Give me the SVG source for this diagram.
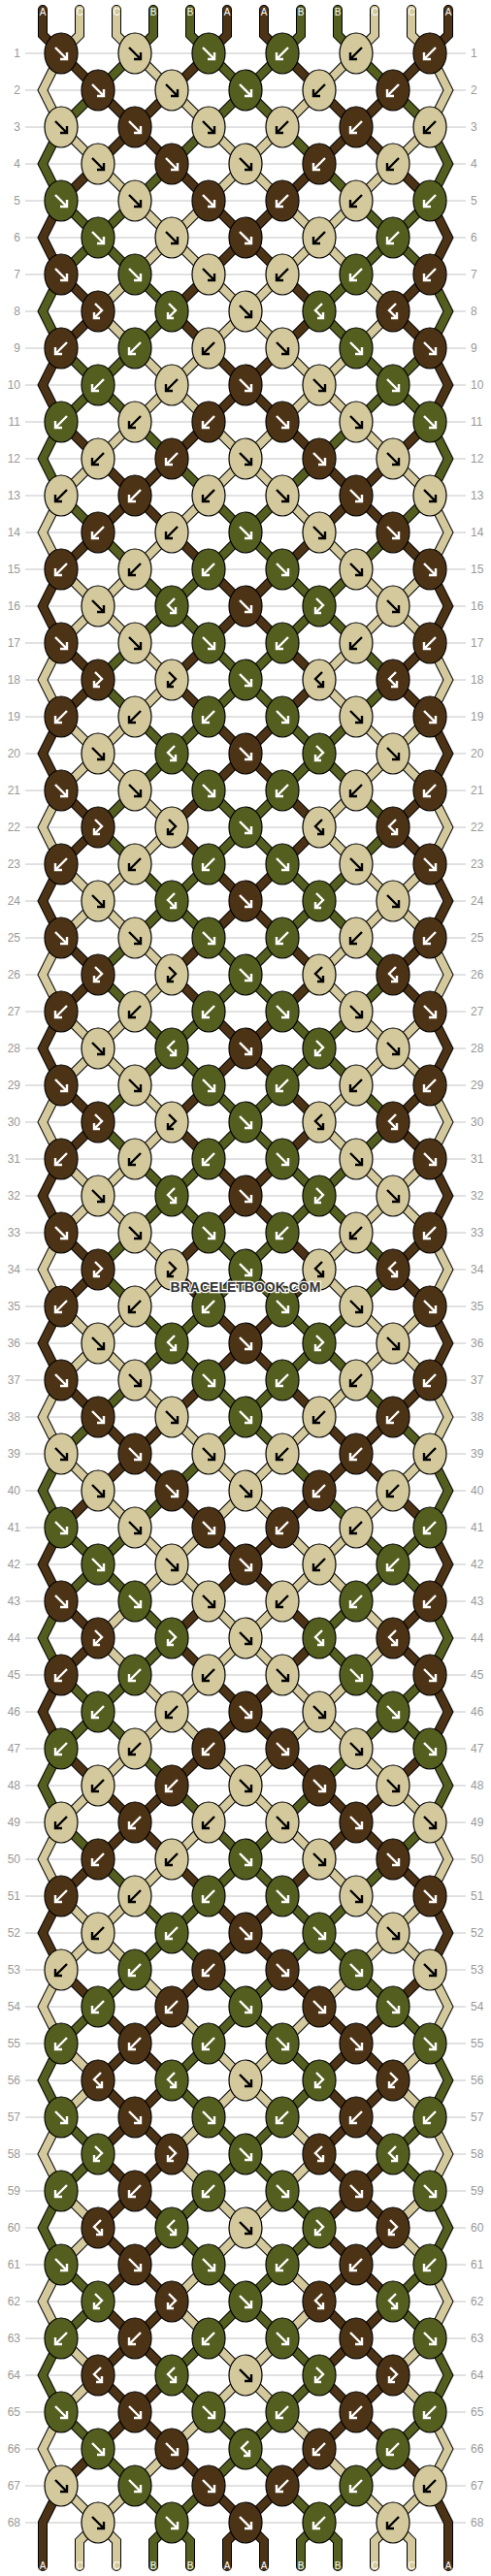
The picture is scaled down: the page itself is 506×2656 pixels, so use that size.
<svg xmlns="http://www.w3.org/2000/svg" width="506" height="2656" viewBox="0 0 506 2656">
<style>
.kA{fill:#4d3316}.kB{fill:#545e1f}.kC{fill:#d4c99c}
.kn{stroke:#000;stroke-width:1.2}
path{fill:none}
.so{stroke:#000;stroke-width:10}
.sA{stroke:#4d3316;stroke-width:8}
.sB{stroke:#545e1f;stroke-width:8}
.sC{stroke:#d4c99c;stroke-width:8}
.so,.sA,.sB,.sC{stroke-linecap:round;stroke-linejoin:miter}
.w{stroke:#fff}.k{stroke:#000}
.ar{stroke-width:2.4;stroke-linejoin:miter;stroke-linecap:butt}
.rl{stroke:#c4c4c4;stroke-width:1}
.nl,.nr{font-family:"Liberation Sans",Arial,sans-serif;font-size:12px;fill:#999}
.nl{text-anchor:end}
.lab{font-family:"Liberation Sans",Arial,sans-serif;font-size:10px;fill:#fff;text-anchor:middle}
.wm{font-family:"Liberation Sans",Arial,sans-serif;font-size:14px;font-weight:bold;fill:#333;stroke:#fff;stroke-width:2.5;paint-order:stroke;text-anchor:middle}
</style>
<defs>
<path id="aF" class="ar" d="M-6-6L6 6M6-1V6H-1"/>
<path id="aB" class="ar" d="M6-6L-6 6M-6-1V6H1"/>
<path id="aFB" class="ar" d="M-3-8L4-1L-4 7M-4 1V7H2"/>
<path id="aBF" class="ar" d="M3-8L-4-1L4 7M4 1V7H-2"/>
<g id="AF"><ellipse class="kA kn" rx="17" ry="21"/><use href="#aF" class="w"/></g>
<g id="AB"><ellipse class="kA kn" rx="17" ry="21"/><use href="#aB" class="w"/></g>
<g id="AFB"><ellipse class="kA kn" rx="17" ry="21"/><use href="#aFB" class="w"/></g>
<g id="ABF"><ellipse class="kA kn" rx="17" ry="21"/><use href="#aBF" class="w"/></g>
<g id="BF"><ellipse class="kB kn" rx="17" ry="21"/><use href="#aF" class="w"/></g>
<g id="BB"><ellipse class="kB kn" rx="17" ry="21"/><use href="#aB" class="w"/></g>
<g id="BFB"><ellipse class="kB kn" rx="17" ry="21"/><use href="#aFB" class="w"/></g>
<g id="BBF"><ellipse class="kB kn" rx="17" ry="21"/><use href="#aBF" class="w"/></g>
<g id="CF"><ellipse class="kC kn" rx="17" ry="21"/><use href="#aF" class="k"/></g>
<g id="CB"><ellipse class="kC kn" rx="17" ry="21"/><use href="#aB" class="k"/></g>
<g id="CFB"><ellipse class="kC kn" rx="17" ry="21"/><use href="#aFB" class="k"/></g>
<g id="CBF"><ellipse class="kC kn" rx="17" ry="21"/><use href="#aBF" class="k"/></g>
<path id="oO" d="M63 0l38 38M139 0l-38 38M139 0l38 38M215 0l-38 38M215 0l38 38M291 0l-38 38M291 0l38 38M367 0l-38 38M367 0l38 38M443 0l-38 38"/>
<path id="eO" d="M101 0l-38 38M101 0l38 38M177 0l-38 38M177 0l38 38M253 0l-38 38M253 0l38 38M329 0l-38 38M329 0l38 38M405 0l-38 38M405 0l38 38"/>
<g id="o0"><use href="#oO" class="so"/><path class="sA" d="M215 0l38 38M291 0l-38 38"/><path class="sB" d="M139 0l38 38M215 0l-38 38M291 0l38 38M367 0l-38 38"/><path class="sC" d="M63 0l38 38M139 0l-38 38M367 0l38 38M443 0l-38 38"/></g>
<g id="o1"><use href="#oO" class="so"/><path class="sA" d="M63 0l38 38M215 0l-38 38M291 0l38 38M443 0l-38 38"/><path class="sB" d="M139 0l-38 38M215 0l38 38M291 0l-38 38M367 0l38 38"/><path class="sC" d="M139 0l38 38M367 0l-38 38"/></g>
<g id="o2"><use href="#oO" class="so"/><path class="sA" d="M139 0l-38 38M139 0l38 38M367 0l-38 38M367 0l38 38"/><path class="sB" d="M63 0l38 38M215 0l38 38M291 0l-38 38M443 0l-38 38"/><path class="sC" d="M215 0l-38 38M291 0l38 38"/></g>
<g id="o3"><use href="#oO" class="so"/><path class="sA" d="M139 0l-38 38M139 0l38 38M367 0l-38 38M367 0l38 38"/><path class="sB" d="M215 0l-38 38M291 0l38 38"/><path class="sC" d="M63 0l38 38M215 0l38 38M291 0l-38 38M443 0l-38 38"/></g>
<g id="o4"><use href="#oO" class="so"/><path class="sA" d="M63 0l38 38M215 0l-38 38M291 0l38 38M443 0l-38 38"/><path class="sB" d="M139 0l38 38M367 0l-38 38"/><path class="sC" d="M139 0l-38 38M215 0l38 38M291 0l-38 38M367 0l38 38"/></g>
<g id="o5"><use href="#oO" class="so"/><path class="sA" d="M215 0l38 38M291 0l-38 38"/><path class="sB" d="M63 0l38 38M139 0l-38 38M367 0l38 38M443 0l-38 38"/><path class="sC" d="M139 0l38 38M215 0l-38 38M291 0l38 38M367 0l-38 38"/></g>
<g id="e0"><use href="#eO" class="so"/><path class="sA" d="M253 0l-38 38M253 0l38 38"/><path class="sB" d="M177 0l-38 38M177 0l38 38M329 0l-38 38M329 0l38 38"/><path class="sC" d="M101 0l-38 38M101 0l38 38M405 0l-38 38M405 0l38 38"/></g>
<g id="e1"><use href="#eO" class="so"/><path class="sA" d="M101 0l-38 38M177 0l38 38M329 0l-38 38M405 0l38 38"/><path class="sB" d="M101 0l38 38M253 0l-38 38M253 0l38 38M405 0l-38 38"/><path class="sC" d="M177 0l-38 38M329 0l38 38"/></g>
<g id="e2"><use href="#eO" class="so"/><path class="sA" d="M101 0l38 38M177 0l-38 38M329 0l38 38M405 0l-38 38"/><path class="sB" d="M101 0l-38 38M253 0l-38 38M253 0l38 38M405 0l38 38"/><path class="sC" d="M177 0l38 38M329 0l-38 38"/></g>
<g id="e3"><use href="#eO" class="so"/><path class="sA" d="M101 0l38 38M177 0l-38 38M329 0l38 38M405 0l-38 38"/><path class="sB" d="M177 0l38 38M329 0l-38 38"/><path class="sC" d="M101 0l-38 38M253 0l-38 38M253 0l38 38M405 0l38 38"/></g>
<g id="e4"><use href="#eO" class="so"/><path class="sA" d="M101 0l-38 38M177 0l38 38M329 0l-38 38M405 0l38 38"/><path class="sB" d="M177 0l-38 38M329 0l38 38"/><path class="sC" d="M101 0l38 38M253 0l-38 38M253 0l38 38M405 0l-38 38"/></g>
<g id="e5"><use href="#eO" class="so"/><path class="sA" d="M253 0l-38 38M253 0l38 38"/><path class="sB" d="M101 0l-38 38M101 0l38 38M405 0l-38 38M405 0l38 38"/><path class="sC" d="M177 0l-38 38M177 0l38 38M329 0l-38 38M329 0l38 38"/></g>
<path id="ed" d="M63 0L44 38L63 76M443 0L462 38L443 76"/>
<g id="edA"><use href="#ed" class="so"/><use href="#ed" class="sA"/></g>
<g id="edB"><use href="#ed" class="so"/><use href="#ed" class="sB"/></g>
<g id="edC"><use href="#ed" class="so"/><use href="#ed" class="sC"/></g>
</defs>
<rect width="506" height="2656" fill="#fff"/>
<path class="rl" d="M26 55h454M26 93h454M26 131h454M26 169h454M26 207h454M26 245h454M26 283h454M26 321h454M26 359h454M26 397h454M26 435h454M26 473h454M26 511h454M26 549h454M26 587h454M26 625h454M26 663h454M26 701h454M26 739h454M26 777h454M26 815h454M26 853h454M26 891h454M26 929h454M26 967h454M26 1005h454M26 1043h454M26 1081h454M26 1119h454M26 1157h454M26 1195h454M26 1233h454M26 1271h454M26 1309h454M26 1347h454M26 1385h454M26 1423h454M26 1461h454M26 1499h454M26 1537h454M26 1575h454M26 1613h454M26 1651h454M26 1689h454M26 1727h454M26 1765h454M26 1803h454M26 1841h454M26 1879h454M26 1917h454M26 1955h454M26 1993h454M26 2031h454M26 2069h454M26 2107h454M26 2145h454M26 2183h454M26 2221h454M26 2259h454M26 2297h454M26 2335h454M26 2373h454M26 2411h454M26 2449h454M26 2487h454M26 2525h454M26 2563h454M26 2601h454"/>
<g class="nl">
<text x="21" y="59">1</text><text x="21" y="97">2</text><text x="21" y="135">3</text><text x="21" y="173">4</text><text x="21" y="211">5</text><text x="21" y="249">6</text><text x="21" y="287">7</text><text x="21" y="325">8</text><text x="21" y="363">9</text><text x="21" y="401">10</text><text x="21" y="439">11</text><text x="21" y="477">12</text><text x="21" y="515">13</text><text x="21" y="553">14</text><text x="21" y="591">15</text><text x="21" y="629">16</text><text x="21" y="667">17</text><text x="21" y="705">18</text><text x="21" y="743">19</text><text x="21" y="781">20</text><text x="21" y="819">21</text><text x="21" y="857">22</text><text x="21" y="895">23</text><text x="21" y="933">24</text><text x="21" y="971">25</text><text x="21" y="1009">26</text><text x="21" y="1047">27</text><text x="21" y="1085">28</text><text x="21" y="1123">29</text><text x="21" y="1161">30</text><text x="21" y="1199">31</text><text x="21" y="1237">32</text><text x="21" y="1275">33</text><text x="21" y="1313">34</text><text x="21" y="1351">35</text><text x="21" y="1389">36</text><text x="21" y="1427">37</text><text x="21" y="1465">38</text><text x="21" y="1503">39</text><text x="21" y="1541">40</text><text x="21" y="1579">41</text><text x="21" y="1617">42</text><text x="21" y="1655">43</text><text x="21" y="1693">44</text><text x="21" y="1731">45</text><text x="21" y="1769">46</text><text x="21" y="1807">47</text><text x="21" y="1845">48</text><text x="21" y="1883">49</text><text x="21" y="1921">50</text><text x="21" y="1959">51</text><text x="21" y="1997">52</text><text x="21" y="2035">53</text><text x="21" y="2073">54</text><text x="21" y="2111">55</text><text x="21" y="2149">56</text><text x="21" y="2187">57</text><text x="21" y="2225">58</text><text x="21" y="2263">59</text><text x="21" y="2301">60</text><text x="21" y="2339">61</text><text x="21" y="2377">62</text><text x="21" y="2415">63</text><text x="21" y="2453">64</text><text x="21" y="2491">65</text><text x="21" y="2529">66</text><text x="21" y="2567">67</text><text x="21" y="2605">68</text>
</g>
<g class="nr">
<text x="485" y="59">1</text><text x="485" y="97">2</text><text x="485" y="135">3</text><text x="485" y="173">4</text><text x="485" y="211">5</text><text x="485" y="249">6</text><text x="485" y="287">7</text><text x="485" y="325">8</text><text x="485" y="363">9</text><text x="485" y="401">10</text><text x="485" y="439">11</text><text x="485" y="477">12</text><text x="485" y="515">13</text><text x="485" y="553">14</text><text x="485" y="591">15</text><text x="485" y="629">16</text><text x="485" y="667">17</text><text x="485" y="705">18</text><text x="485" y="743">19</text><text x="485" y="781">20</text><text x="485" y="819">21</text><text x="485" y="857">22</text><text x="485" y="895">23</text><text x="485" y="933">24</text><text x="485" y="971">25</text><text x="485" y="1009">26</text><text x="485" y="1047">27</text><text x="485" y="1085">28</text><text x="485" y="1123">29</text><text x="485" y="1161">30</text><text x="485" y="1199">31</text><text x="485" y="1237">32</text><text x="485" y="1275">33</text><text x="485" y="1313">34</text><text x="485" y="1351">35</text><text x="485" y="1389">36</text><text x="485" y="1427">37</text><text x="485" y="1465">38</text><text x="485" y="1503">39</text><text x="485" y="1541">40</text><text x="485" y="1579">41</text><text x="485" y="1617">42</text><text x="485" y="1655">43</text><text x="485" y="1693">44</text><text x="485" y="1731">45</text><text x="485" y="1769">46</text><text x="485" y="1807">47</text><text x="485" y="1845">48</text><text x="485" y="1883">49</text><text x="485" y="1921">50</text><text x="485" y="1959">51</text><text x="485" y="1997">52</text><text x="485" y="2035">53</text><text x="485" y="2073">54</text><text x="485" y="2111">55</text><text x="485" y="2149">56</text><text x="485" y="2187">57</text><text x="485" y="2225">58</text><text x="485" y="2263">59</text><text x="485" y="2301">60</text><text x="485" y="2339">61</text><text x="485" y="2377">62</text><text x="485" y="2415">63</text><text x="485" y="2453">64</text><text x="485" y="2491">65</text><text x="485" y="2529">66</text><text x="485" y="2567">67</text><text x="485" y="2605">68</text>
</g>
<g id="connectors">
<g id="top-ends">
<path class="so" d="M44 10V36L63 55M82 10V36L63 55M120 10V36L139 55M158 10V36L139 55M196 10V36L215 55M234 10V36L215 55M272 10V36L291 55M310 10V36L291 55M348 10V36L367 55M386 10V36L367 55M424 10V36L443 55M462 10V36L443 55"/>
<path class="sA" d="M44 10V36L63 55M234 10V36L215 55M272 10V36L291 55M462 10V36L443 55"/>
<path class="sB" d="M158 10V36L139 55M196 10V36L215 55M310 10V36L291 55M348 10V36L367 55"/>
<path class="sC" d="M82 10V36L63 55M120 10V36L139 55M386 10V36L367 55M424 10V36L443 55"/>
</g>
<g id="strips">
<use href="#o1" y="55"/><use href="#e2" y="93"/><use href="#o3" y="131"/><use href="#e4" y="169"/><use href="#o5" y="207"/><use href="#e5" y="245"/><use href="#o4" y="283"/><use href="#e4" y="321"/><use href="#o5" y="359"/><use href="#e5" y="397"/><use href="#o4" y="435"/><use href="#e3" y="473"/><use href="#o2" y="511"/><use href="#e1" y="549"/><use href="#o0" y="587"/><use href="#e0" y="625"/><use href="#o1" y="663"/><use href="#e1" y="701"/><use href="#o0" y="739"/><use href="#e0" y="777"/><use href="#o1" y="815"/><use href="#e1" y="853"/><use href="#o0" y="891"/><use href="#e0" y="929"/><use href="#o1" y="967"/><use href="#e1" y="1005"/><use href="#o0" y="1043"/><use href="#e0" y="1081"/><use href="#o1" y="1119"/><use href="#e1" y="1157"/><use href="#o0" y="1195"/><use href="#e0" y="1233"/><use href="#o1" y="1271"/><use href="#e1" y="1309"/><use href="#o0" y="1347"/><use href="#e0" y="1385"/><use href="#o1" y="1423"/><use href="#e2" y="1461"/><use href="#o3" y="1499"/><use href="#e4" y="1537"/><use href="#o5" y="1575"/><use href="#e5" y="1613"/><use href="#o4" y="1651"/><use href="#e4" y="1689"/><use href="#o5" y="1727"/><use href="#e5" y="1765"/><use href="#o4" y="1803"/><use href="#e3" y="1841"/><use href="#o2" y="1879"/><use href="#e1" y="1917"/><use href="#o0" y="1955"/><use href="#e0" y="1993"/><use href="#o1" y="2031"/><use href="#e2" y="2069"/><use href="#o3" y="2107"/><use href="#e3" y="2145"/><use href="#o2" y="2183"/><use href="#e2" y="2221"/><use href="#o3" y="2259"/><use href="#e3" y="2297"/><use href="#o2" y="2335"/><use href="#e2" y="2373"/><use href="#o3" y="2411"/><use href="#e3" y="2449"/><use href="#o2" y="2487"/><use href="#e1" y="2525"/><use href="#o0" y="2563"/>
</g>
<g id="edges">
<use href="#edC" y="55"/><use href="#edB" y="131"/><use href="#edA" y="207"/><use href="#edB" y="283"/><use href="#edA" y="359"/><use href="#edB" y="435"/><use href="#edC" y="511"/><use href="#edA" y="587"/><use href="#edC" y="663"/><use href="#edA" y="739"/><use href="#edC" y="815"/><use href="#edA" y="891"/><use href="#edC" y="967"/><use href="#edA" y="1043"/><use href="#edC" y="1119"/><use href="#edA" y="1195"/><use href="#edC" y="1271"/><use href="#edA" y="1347"/><use href="#edC" y="1423"/><use href="#edB" y="1499"/><use href="#edA" y="1575"/><use href="#edB" y="1651"/><use href="#edA" y="1727"/><use href="#edB" y="1803"/><use href="#edC" y="1879"/><use href="#edA" y="1955"/><use href="#edC" y="2031"/><use href="#edB" y="2107"/><use href="#edC" y="2183"/><use href="#edB" y="2259"/><use href="#edC" y="2335"/><use href="#edB" y="2411"/><use href="#edC" y="2487"/>
</g>
<g id="bottom-ends">
<path class="so" d="M63 2563L44 2601V2646M443 2563L462 2601V2646M101 2601L82 2620V2646M101 2601L120 2620V2646M177 2601L158 2620V2646M177 2601L196 2620V2646M253 2601L234 2620V2646M253 2601L272 2620V2646M329 2601L310 2620V2646M329 2601L348 2620V2646M405 2601L386 2620V2646M405 2601L424 2620V2646"/>
<path class="sA" d="M63 2563L44 2601V2646M443 2563L462 2601V2646M253 2601L234 2620V2646M253 2601L272 2620V2646"/>
<path class="sB" d="M177 2601L158 2620V2646M177 2601L196 2620V2646M329 2601L310 2620V2646M329 2601L348 2620V2646"/>
<path class="sC" d="M101 2601L82 2620V2646M101 2601L120 2620V2646M405 2601L386 2620V2646M405 2601L424 2620V2646"/>
</g>
</g>
<g class="lab">
<text x="44" y="16">A</text><text x="82" y="16">C</text><text x="120" y="16">C</text><text x="158" y="16">B</text><text x="196" y="16">B</text><text x="234" y="16">A</text><text x="272" y="16">A</text><text x="310" y="16">B</text><text x="348" y="16">B</text><text x="386" y="16">C</text><text x="424" y="16">C</text><text x="462" y="16">A</text>
<text x="44" y="2649">A</text><text x="82" y="2649">C</text><text x="120" y="2649">C</text><text x="158" y="2649">B</text><text x="196" y="2649">B</text><text x="234" y="2649">A</text><text x="272" y="2649">A</text><text x="310" y="2649">B</text><text x="348" y="2649">B</text><text x="386" y="2649">C</text><text x="424" y="2649">C</text><text x="462" y="2649">A</text>
</g>
<g id="knots">
<g id="n1-1"><use href="#AF" x="63" y="55"/></g><g id="n1-2"><use href="#CF" x="139" y="55"/></g><g id="n1-3"><use href="#BF" x="215" y="55"/></g><g id="n1-4"><use href="#BB" x="291" y="55"/></g><g id="n1-5"><use href="#CB" x="367" y="55"/></g><g id="n1-6"><use href="#AB" x="443" y="55"/></g>
<g id="n2-1"><use href="#AF" x="101" y="93"/></g><g id="n2-2"><use href="#CF" x="177" y="93"/></g><g id="n2-3"><use href="#BF" x="253" y="93"/></g><g id="n2-4"><use href="#CB" x="329" y="93"/></g><g id="n2-5"><use href="#AB" x="405" y="93"/></g>
<g id="n3-1"><use href="#CF" x="63" y="131"/></g><g id="n3-2"><use href="#AF" x="139" y="131"/></g><g id="n3-3"><use href="#CF" x="215" y="131"/></g><g id="n3-4"><use href="#CB" x="291" y="131"/></g><g id="n3-5"><use href="#AB" x="367" y="131"/></g><g id="n3-6"><use href="#CB" x="443" y="131"/></g>
<g id="n4-1"><use href="#CF" x="101" y="169"/></g><g id="n4-2"><use href="#AF" x="177" y="169"/></g><g id="n4-3"><use href="#CF" x="253" y="169"/></g><g id="n4-4"><use href="#AB" x="329" y="169"/></g><g id="n4-5"><use href="#CB" x="405" y="169"/></g>
<g id="n5-1"><use href="#BF" x="63" y="207"/></g><g id="n5-2"><use href="#CF" x="139" y="207"/></g><g id="n5-3"><use href="#AF" x="215" y="207"/></g><g id="n5-4"><use href="#AB" x="291" y="207"/></g><g id="n5-5"><use href="#CB" x="367" y="207"/></g><g id="n5-6"><use href="#BB" x="443" y="207"/></g>
<g id="n6-1"><use href="#BF" x="101" y="245"/></g><g id="n6-2"><use href="#CF" x="177" y="245"/></g><g id="n6-3"><use href="#AF" x="253" y="245"/></g><g id="n6-4"><use href="#CB" x="329" y="245"/></g><g id="n6-5"><use href="#BB" x="405" y="245"/></g>
<g id="n7-1"><use href="#AF" x="63" y="283"/></g><g id="n7-2"><use href="#BF" x="139" y="283"/></g><g id="n7-3"><use href="#CF" x="215" y="283"/></g><g id="n7-4"><use href="#CB" x="291" y="283"/></g><g id="n7-5"><use href="#BB" x="367" y="283"/></g><g id="n7-6"><use href="#AB" x="443" y="283"/></g>
<g id="n8-1"><use href="#AFB" x="101" y="321"/></g><g id="n8-2"><use href="#BFB" x="177" y="321"/></g><g id="n8-3"><use href="#CF" x="253" y="321"/></g><g id="n8-4"><use href="#BBF" x="329" y="321"/></g><g id="n8-5"><use href="#ABF" x="405" y="321"/></g>
<g id="n9-1"><use href="#AB" x="63" y="359"/></g><g id="n9-2"><use href="#BB" x="139" y="359"/></g><g id="n9-3"><use href="#CB" x="215" y="359"/></g><g id="n9-4"><use href="#CF" x="291" y="359"/></g><g id="n9-5"><use href="#BF" x="367" y="359"/></g><g id="n9-6"><use href="#AF" x="443" y="359"/></g>
<g id="n10-1"><use href="#BB" x="101" y="397"/></g><g id="n10-2"><use href="#CB" x="177" y="397"/></g><g id="n10-3"><use href="#AF" x="253" y="397"/></g><g id="n10-4"><use href="#CF" x="329" y="397"/></g><g id="n10-5"><use href="#BF" x="405" y="397"/></g>
<g id="n11-1"><use href="#BB" x="63" y="435"/></g><g id="n11-2"><use href="#CB" x="139" y="435"/></g><g id="n11-3"><use href="#AB" x="215" y="435"/></g><g id="n11-4"><use href="#AF" x="291" y="435"/></g><g id="n11-5"><use href="#CF" x="367" y="435"/></g><g id="n11-6"><use href="#BF" x="443" y="435"/></g>
<g id="n12-1"><use href="#CB" x="101" y="473"/></g><g id="n12-2"><use href="#AB" x="177" y="473"/></g><g id="n12-3"><use href="#CF" x="253" y="473"/></g><g id="n12-4"><use href="#AF" x="329" y="473"/></g><g id="n12-5"><use href="#CF" x="405" y="473"/></g>
<g id="n13-1"><use href="#CB" x="63" y="511"/></g><g id="n13-2"><use href="#AB" x="139" y="511"/></g><g id="n13-3"><use href="#CB" x="215" y="511"/></g><g id="n13-4"><use href="#CF" x="291" y="511"/></g><g id="n13-5"><use href="#AF" x="367" y="511"/></g><g id="n13-6"><use href="#CF" x="443" y="511"/></g>
<g id="n14-1"><use href="#AB" x="101" y="549"/></g><g id="n14-2"><use href="#CB" x="177" y="549"/></g><g id="n14-3"><use href="#BF" x="253" y="549"/></g><g id="n14-4"><use href="#CF" x="329" y="549"/></g><g id="n14-5"><use href="#AF" x="405" y="549"/></g>
<g id="n15-1"><use href="#AB" x="63" y="587"/></g><g id="n15-2"><use href="#CB" x="139" y="587"/></g><g id="n15-3"><use href="#BB" x="215" y="587"/></g><g id="n15-4"><use href="#BF" x="291" y="587"/></g><g id="n15-5"><use href="#CF" x="367" y="587"/></g><g id="n15-6"><use href="#AF" x="443" y="587"/></g>
<g id="n16-1"><use href="#CF" x="101" y="625"/></g><g id="n16-2"><use href="#BBF" x="177" y="625"/></g><g id="n16-3"><use href="#AF" x="253" y="625"/></g><g id="n16-4"><use href="#BFB" x="329" y="625"/></g><g id="n16-5"><use href="#CF" x="405" y="625"/></g>
<g id="n17-1"><use href="#AF" x="63" y="663"/></g><g id="n17-2"><use href="#CF" x="139" y="663"/></g><g id="n17-3"><use href="#BF" x="215" y="663"/></g><g id="n17-4"><use href="#BB" x="291" y="663"/></g><g id="n17-5"><use href="#CB" x="367" y="663"/></g><g id="n17-6"><use href="#AB" x="443" y="663"/></g>
<g id="n18-1"><use href="#AFB" x="101" y="701"/></g><g id="n18-2"><use href="#CFB" x="177" y="701"/></g><g id="n18-3"><use href="#BF" x="253" y="701"/></g><g id="n18-4"><use href="#CBF" x="329" y="701"/></g><g id="n18-5"><use href="#ABF" x="405" y="701"/></g>
<g id="n19-1"><use href="#AB" x="63" y="739"/></g><g id="n19-2"><use href="#CB" x="139" y="739"/></g><g id="n19-3"><use href="#BB" x="215" y="739"/></g><g id="n19-4"><use href="#BF" x="291" y="739"/></g><g id="n19-5"><use href="#CF" x="367" y="739"/></g><g id="n19-6"><use href="#AF" x="443" y="739"/></g>
<g id="n20-1"><use href="#CF" x="101" y="777"/></g><g id="n20-2"><use href="#BBF" x="177" y="777"/></g><g id="n20-3"><use href="#AF" x="253" y="777"/></g><g id="n20-4"><use href="#BFB" x="329" y="777"/></g><g id="n20-5"><use href="#CF" x="405" y="777"/></g>
<g id="n21-1"><use href="#AF" x="63" y="815"/></g><g id="n21-2"><use href="#CF" x="139" y="815"/></g><g id="n21-3"><use href="#BF" x="215" y="815"/></g><g id="n21-4"><use href="#BB" x="291" y="815"/></g><g id="n21-5"><use href="#CB" x="367" y="815"/></g><g id="n21-6"><use href="#AB" x="443" y="815"/></g>
<g id="n22-1"><use href="#AFB" x="101" y="853"/></g><g id="n22-2"><use href="#CFB" x="177" y="853"/></g><g id="n22-3"><use href="#BF" x="253" y="853"/></g><g id="n22-4"><use href="#CBF" x="329" y="853"/></g><g id="n22-5"><use href="#ABF" x="405" y="853"/></g>
<g id="n23-1"><use href="#AB" x="63" y="891"/></g><g id="n23-2"><use href="#CB" x="139" y="891"/></g><g id="n23-3"><use href="#BB" x="215" y="891"/></g><g id="n23-4"><use href="#BF" x="291" y="891"/></g><g id="n23-5"><use href="#CF" x="367" y="891"/></g><g id="n23-6"><use href="#AF" x="443" y="891"/></g>
<g id="n24-1"><use href="#CF" x="101" y="929"/></g><g id="n24-2"><use href="#BBF" x="177" y="929"/></g><g id="n24-3"><use href="#AF" x="253" y="929"/></g><g id="n24-4"><use href="#BFB" x="329" y="929"/></g><g id="n24-5"><use href="#CF" x="405" y="929"/></g>
<g id="n25-1"><use href="#AF" x="63" y="967"/></g><g id="n25-2"><use href="#CF" x="139" y="967"/></g><g id="n25-3"><use href="#BF" x="215" y="967"/></g><g id="n25-4"><use href="#BB" x="291" y="967"/></g><g id="n25-5"><use href="#CB" x="367" y="967"/></g><g id="n25-6"><use href="#AB" x="443" y="967"/></g>
<g id="n26-1"><use href="#AFB" x="101" y="1005"/></g><g id="n26-2"><use href="#CFB" x="177" y="1005"/></g><g id="n26-3"><use href="#BF" x="253" y="1005"/></g><g id="n26-4"><use href="#CBF" x="329" y="1005"/></g><g id="n26-5"><use href="#ABF" x="405" y="1005"/></g>
<g id="n27-1"><use href="#AB" x="63" y="1043"/></g><g id="n27-2"><use href="#CB" x="139" y="1043"/></g><g id="n27-3"><use href="#BB" x="215" y="1043"/></g><g id="n27-4"><use href="#BF" x="291" y="1043"/></g><g id="n27-5"><use href="#CF" x="367" y="1043"/></g><g id="n27-6"><use href="#AF" x="443" y="1043"/></g>
<g id="n28-1"><use href="#CF" x="101" y="1081"/></g><g id="n28-2"><use href="#BBF" x="177" y="1081"/></g><g id="n28-3"><use href="#AF" x="253" y="1081"/></g><g id="n28-4"><use href="#BFB" x="329" y="1081"/></g><g id="n28-5"><use href="#CF" x="405" y="1081"/></g>
<g id="n29-1"><use href="#AF" x="63" y="1119"/></g><g id="n29-2"><use href="#CF" x="139" y="1119"/></g><g id="n29-3"><use href="#BF" x="215" y="1119"/></g><g id="n29-4"><use href="#BB" x="291" y="1119"/></g><g id="n29-5"><use href="#CB" x="367" y="1119"/></g><g id="n29-6"><use href="#AB" x="443" y="1119"/></g>
<g id="n30-1"><use href="#AFB" x="101" y="1157"/></g><g id="n30-2"><use href="#CFB" x="177" y="1157"/></g><g id="n30-3"><use href="#BF" x="253" y="1157"/></g><g id="n30-4"><use href="#CBF" x="329" y="1157"/></g><g id="n30-5"><use href="#ABF" x="405" y="1157"/></g>
<g id="n31-1"><use href="#AB" x="63" y="1195"/></g><g id="n31-2"><use href="#CB" x="139" y="1195"/></g><g id="n31-3"><use href="#BB" x="215" y="1195"/></g><g id="n31-4"><use href="#BF" x="291" y="1195"/></g><g id="n31-5"><use href="#CF" x="367" y="1195"/></g><g id="n31-6"><use href="#AF" x="443" y="1195"/></g>
<g id="n32-1"><use href="#CF" x="101" y="1233"/></g><g id="n32-2"><use href="#BBF" x="177" y="1233"/></g><g id="n32-3"><use href="#AF" x="253" y="1233"/></g><g id="n32-4"><use href="#BFB" x="329" y="1233"/></g><g id="n32-5"><use href="#CF" x="405" y="1233"/></g>
<g id="n33-1"><use href="#AF" x="63" y="1271"/></g><g id="n33-2"><use href="#CF" x="139" y="1271"/></g><g id="n33-3"><use href="#BF" x="215" y="1271"/></g><g id="n33-4"><use href="#BB" x="291" y="1271"/></g><g id="n33-5"><use href="#CB" x="367" y="1271"/></g><g id="n33-6"><use href="#AB" x="443" y="1271"/></g>
<g id="n34-1"><use href="#AFB" x="101" y="1309"/></g><g id="n34-2"><use href="#CFB" x="177" y="1309"/></g><g id="n34-3"><use href="#BF" x="253" y="1309"/></g><g id="n34-4"><use href="#CBF" x="329" y="1309"/></g><g id="n34-5"><use href="#ABF" x="405" y="1309"/></g>
<g id="n35-1"><use href="#AB" x="63" y="1347"/></g><g id="n35-2"><use href="#CB" x="139" y="1347"/></g><g id="n35-3"><use href="#BB" x="215" y="1347"/></g><g id="n35-4"><use href="#BF" x="291" y="1347"/></g><g id="n35-5"><use href="#CF" x="367" y="1347"/></g><g id="n35-6"><use href="#AF" x="443" y="1347"/></g>
<g id="n36-1"><use href="#CF" x="101" y="1385"/></g><g id="n36-2"><use href="#BBF" x="177" y="1385"/></g><g id="n36-3"><use href="#AF" x="253" y="1385"/></g><g id="n36-4"><use href="#BFB" x="329" y="1385"/></g><g id="n36-5"><use href="#CF" x="405" y="1385"/></g>
<g id="n37-1"><use href="#AF" x="63" y="1423"/></g><g id="n37-2"><use href="#CF" x="139" y="1423"/></g><g id="n37-3"><use href="#BF" x="215" y="1423"/></g><g id="n37-4"><use href="#BB" x="291" y="1423"/></g><g id="n37-5"><use href="#CB" x="367" y="1423"/></g><g id="n37-6"><use href="#AB" x="443" y="1423"/></g>
<g id="n38-1"><use href="#AF" x="101" y="1461"/></g><g id="n38-2"><use href="#CF" x="177" y="1461"/></g><g id="n38-3"><use href="#BF" x="253" y="1461"/></g><g id="n38-4"><use href="#CB" x="329" y="1461"/></g><g id="n38-5"><use href="#AB" x="405" y="1461"/></g>
<g id="n39-1"><use href="#CF" x="63" y="1499"/></g><g id="n39-2"><use href="#AF" x="139" y="1499"/></g><g id="n39-3"><use href="#CF" x="215" y="1499"/></g><g id="n39-4"><use href="#CB" x="291" y="1499"/></g><g id="n39-5"><use href="#AB" x="367" y="1499"/></g><g id="n39-6"><use href="#CB" x="443" y="1499"/></g>
<g id="n40-1"><use href="#CF" x="101" y="1537"/></g><g id="n40-2"><use href="#AF" x="177" y="1537"/></g><g id="n40-3"><use href="#CF" x="253" y="1537"/></g><g id="n40-4"><use href="#AB" x="329" y="1537"/></g><g id="n40-5"><use href="#CB" x="405" y="1537"/></g>
<g id="n41-1"><use href="#BF" x="63" y="1575"/></g><g id="n41-2"><use href="#CF" x="139" y="1575"/></g><g id="n41-3"><use href="#AF" x="215" y="1575"/></g><g id="n41-4"><use href="#AB" x="291" y="1575"/></g><g id="n41-5"><use href="#CB" x="367" y="1575"/></g><g id="n41-6"><use href="#BB" x="443" y="1575"/></g>
<g id="n42-1"><use href="#BF" x="101" y="1613"/></g><g id="n42-2"><use href="#CF" x="177" y="1613"/></g><g id="n42-3"><use href="#AF" x="253" y="1613"/></g><g id="n42-4"><use href="#CB" x="329" y="1613"/></g><g id="n42-5"><use href="#BB" x="405" y="1613"/></g>
<g id="n43-1"><use href="#AF" x="63" y="1651"/></g><g id="n43-2"><use href="#BF" x="139" y="1651"/></g><g id="n43-3"><use href="#CF" x="215" y="1651"/></g><g id="n43-4"><use href="#CB" x="291" y="1651"/></g><g id="n43-5"><use href="#BB" x="367" y="1651"/></g><g id="n43-6"><use href="#AB" x="443" y="1651"/></g>
<g id="n44-1"><use href="#AFB" x="101" y="1689"/></g><g id="n44-2"><use href="#BFB" x="177" y="1689"/></g><g id="n44-3"><use href="#CF" x="253" y="1689"/></g><g id="n44-4"><use href="#BBF" x="329" y="1689"/></g><g id="n44-5"><use href="#ABF" x="405" y="1689"/></g>
<g id="n45-1"><use href="#AB" x="63" y="1727"/></g><g id="n45-2"><use href="#BB" x="139" y="1727"/></g><g id="n45-3"><use href="#CB" x="215" y="1727"/></g><g id="n45-4"><use href="#CF" x="291" y="1727"/></g><g id="n45-5"><use href="#BF" x="367" y="1727"/></g><g id="n45-6"><use href="#AF" x="443" y="1727"/></g>
<g id="n46-1"><use href="#BB" x="101" y="1765"/></g><g id="n46-2"><use href="#CB" x="177" y="1765"/></g><g id="n46-3"><use href="#AF" x="253" y="1765"/></g><g id="n46-4"><use href="#CF" x="329" y="1765"/></g><g id="n46-5"><use href="#BF" x="405" y="1765"/></g>
<g id="n47-1"><use href="#BB" x="63" y="1803"/></g><g id="n47-2"><use href="#CB" x="139" y="1803"/></g><g id="n47-3"><use href="#AB" x="215" y="1803"/></g><g id="n47-4"><use href="#AF" x="291" y="1803"/></g><g id="n47-5"><use href="#CF" x="367" y="1803"/></g><g id="n47-6"><use href="#BF" x="443" y="1803"/></g>
<g id="n48-1"><use href="#CB" x="101" y="1841"/></g><g id="n48-2"><use href="#AB" x="177" y="1841"/></g><g id="n48-3"><use href="#CF" x="253" y="1841"/></g><g id="n48-4"><use href="#AF" x="329" y="1841"/></g><g id="n48-5"><use href="#CF" x="405" y="1841"/></g>
<g id="n49-1"><use href="#CB" x="63" y="1879"/></g><g id="n49-2"><use href="#AB" x="139" y="1879"/></g><g id="n49-3"><use href="#CB" x="215" y="1879"/></g><g id="n49-4"><use href="#CF" x="291" y="1879"/></g><g id="n49-5"><use href="#AF" x="367" y="1879"/></g><g id="n49-6"><use href="#CF" x="443" y="1879"/></g>
<g id="n50-1"><use href="#AB" x="101" y="1917"/></g><g id="n50-2"><use href="#CB" x="177" y="1917"/></g><g id="n50-3"><use href="#BF" x="253" y="1917"/></g><g id="n50-4"><use href="#CF" x="329" y="1917"/></g><g id="n50-5"><use href="#AF" x="405" y="1917"/></g>
<g id="n51-1"><use href="#AB" x="63" y="1955"/></g><g id="n51-2"><use href="#CB" x="139" y="1955"/></g><g id="n51-3"><use href="#BB" x="215" y="1955"/></g><g id="n51-4"><use href="#BF" x="291" y="1955"/></g><g id="n51-5"><use href="#CF" x="367" y="1955"/></g><g id="n51-6"><use href="#AF" x="443" y="1955"/></g>
<g id="n52-1"><use href="#CB" x="101" y="1993"/></g><g id="n52-2"><use href="#BB" x="177" y="1993"/></g><g id="n52-3"><use href="#AF" x="253" y="1993"/></g><g id="n52-4"><use href="#BF" x="329" y="1993"/></g><g id="n52-5"><use href="#CF" x="405" y="1993"/></g>
<g id="n53-1"><use href="#CB" x="63" y="2031"/></g><g id="n53-2"><use href="#BB" x="139" y="2031"/></g><g id="n53-3"><use href="#AB" x="215" y="2031"/></g><g id="n53-4"><use href="#AF" x="291" y="2031"/></g><g id="n53-5"><use href="#BF" x="367" y="2031"/></g><g id="n53-6"><use href="#CF" x="443" y="2031"/></g>
<g id="n54-1"><use href="#BB" x="101" y="2069"/></g><g id="n54-2"><use href="#AB" x="177" y="2069"/></g><g id="n54-3"><use href="#BF" x="253" y="2069"/></g><g id="n54-4"><use href="#AF" x="329" y="2069"/></g><g id="n54-5"><use href="#BF" x="405" y="2069"/></g>
<g id="n55-1"><use href="#BB" x="63" y="2107"/></g><g id="n55-2"><use href="#AB" x="139" y="2107"/></g><g id="n55-3"><use href="#BB" x="215" y="2107"/></g><g id="n55-4"><use href="#BF" x="291" y="2107"/></g><g id="n55-5"><use href="#AF" x="367" y="2107"/></g><g id="n55-6"><use href="#BF" x="443" y="2107"/></g>
<g id="n56-1"><use href="#ABF" x="101" y="2145"/></g><g id="n56-2"><use href="#BBF" x="177" y="2145"/></g><g id="n56-3"><use href="#CF" x="253" y="2145"/></g><g id="n56-4"><use href="#BFB" x="329" y="2145"/></g><g id="n56-5"><use href="#AFB" x="405" y="2145"/></g>
<g id="n57-1"><use href="#BF" x="63" y="2183"/></g><g id="n57-2"><use href="#AF" x="139" y="2183"/></g><g id="n57-3"><use href="#BF" x="215" y="2183"/></g><g id="n57-4"><use href="#BB" x="291" y="2183"/></g><g id="n57-5"><use href="#AB" x="367" y="2183"/></g><g id="n57-6"><use href="#BB" x="443" y="2183"/></g>
<g id="n58-1"><use href="#BFB" x="101" y="2221"/></g><g id="n58-2"><use href="#AFB" x="177" y="2221"/></g><g id="n58-3"><use href="#BF" x="253" y="2221"/></g><g id="n58-4"><use href="#ABF" x="329" y="2221"/></g><g id="n58-5"><use href="#BBF" x="405" y="2221"/></g>
<g id="n59-1"><use href="#BB" x="63" y="2259"/></g><g id="n59-2"><use href="#AB" x="139" y="2259"/></g><g id="n59-3"><use href="#BB" x="215" y="2259"/></g><g id="n59-4"><use href="#BF" x="291" y="2259"/></g><g id="n59-5"><use href="#AF" x="367" y="2259"/></g><g id="n59-6"><use href="#BF" x="443" y="2259"/></g>
<g id="n60-1"><use href="#ABF" x="101" y="2297"/></g><g id="n60-2"><use href="#BBF" x="177" y="2297"/></g><g id="n60-3"><use href="#CF" x="253" y="2297"/></g><g id="n60-4"><use href="#BFB" x="329" y="2297"/></g><g id="n60-5"><use href="#AFB" x="405" y="2297"/></g>
<g id="n61-1"><use href="#BF" x="63" y="2335"/></g><g id="n61-2"><use href="#AF" x="139" y="2335"/></g><g id="n61-3"><use href="#BF" x="215" y="2335"/></g><g id="n61-4"><use href="#BB" x="291" y="2335"/></g><g id="n61-5"><use href="#AB" x="367" y="2335"/></g><g id="n61-6"><use href="#BB" x="443" y="2335"/></g>
<g id="n62-1"><use href="#BFB" x="101" y="2373"/></g><g id="n62-2"><use href="#AFB" x="177" y="2373"/></g><g id="n62-3"><use href="#BF" x="253" y="2373"/></g><g id="n62-4"><use href="#ABF" x="329" y="2373"/></g><g id="n62-5"><use href="#BBF" x="405" y="2373"/></g>
<g id="n63-1"><use href="#BB" x="63" y="2411"/></g><g id="n63-2"><use href="#AB" x="139" y="2411"/></g><g id="n63-3"><use href="#BB" x="215" y="2411"/></g><g id="n63-4"><use href="#BF" x="291" y="2411"/></g><g id="n63-5"><use href="#AF" x="367" y="2411"/></g><g id="n63-6"><use href="#BF" x="443" y="2411"/></g>
<g id="n64-1"><use href="#ABF" x="101" y="2449"/></g><g id="n64-2"><use href="#BBF" x="177" y="2449"/></g><g id="n64-3"><use href="#CF" x="253" y="2449"/></g><g id="n64-4"><use href="#BFB" x="329" y="2449"/></g><g id="n64-5"><use href="#AFB" x="405" y="2449"/></g>
<g id="n65-1"><use href="#BF" x="63" y="2487"/></g><g id="n65-2"><use href="#AF" x="139" y="2487"/></g><g id="n65-3"><use href="#BF" x="215" y="2487"/></g><g id="n65-4"><use href="#BB" x="291" y="2487"/></g><g id="n65-5"><use href="#AB" x="367" y="2487"/></g><g id="n65-6"><use href="#BB" x="443" y="2487"/></g>
<g id="n66-1"><use href="#BF" x="101" y="2525"/></g><g id="n66-2"><use href="#AF" x="177" y="2525"/></g><g id="n66-3"><use href="#BBF" x="253" y="2525"/></g><g id="n66-4"><use href="#AB" x="329" y="2525"/></g><g id="n66-5"><use href="#BB" x="405" y="2525"/></g>
<g id="n67-1"><use href="#CF" x="63" y="2563"/></g><g id="n67-2"><use href="#BF" x="139" y="2563"/></g><g id="n67-3"><use href="#AF" x="215" y="2563"/></g><g id="n67-4"><use href="#AB" x="291" y="2563"/></g><g id="n67-5"><use href="#BB" x="367" y="2563"/></g><g id="n67-6"><use href="#CB" x="443" y="2563"/></g>
<g id="n68-1"><use href="#CF" x="101" y="2601"/></g><g id="n68-2"><use href="#BF" x="177" y="2601"/></g><g id="n68-3"><use href="#AF" x="253" y="2601"/></g><g id="n68-4"><use href="#BB" x="329" y="2601"/></g><g id="n68-5"><use href="#CB" x="405" y="2601"/></g>
</g>
<text class="wm" x="253" y="1332">BRACELETBOOK.COM</text>
</svg>
